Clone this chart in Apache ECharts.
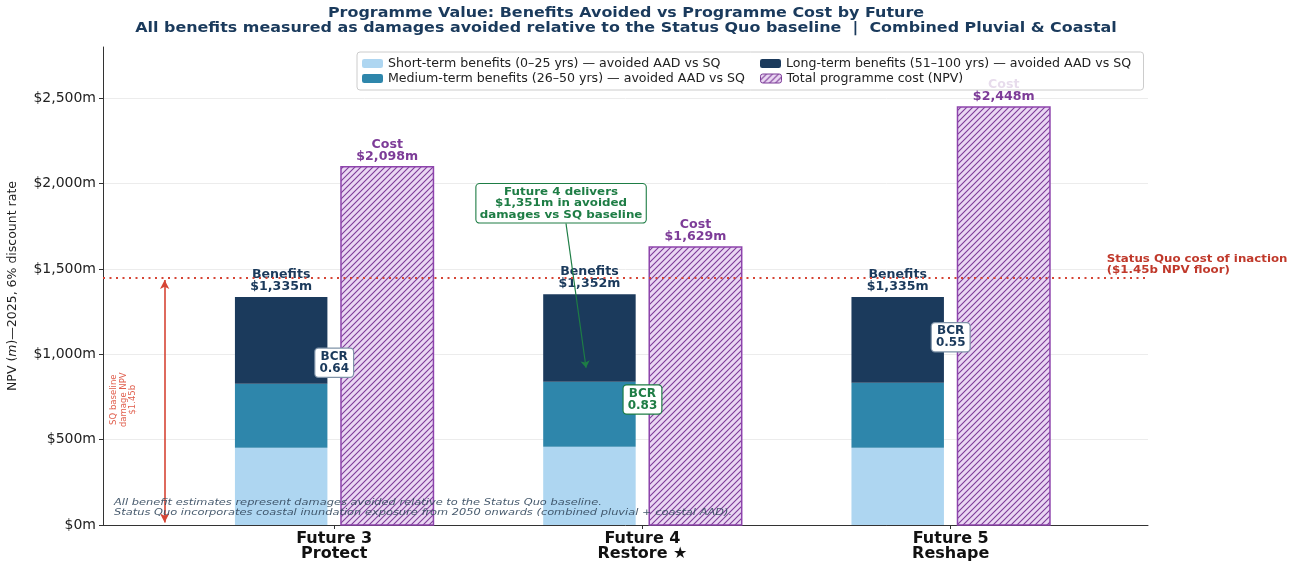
<!DOCTYPE html>
<html>
<head>
<meta charset="utf-8">
<script src="https://cdn.jsdelivr.net/npm/echarts@6/dist/echarts.min.js"></script>
<style>
    html, body { margin: 0; padding: 0; background: #fff; }
    #chart { width: 1300px; height: 562px; }
</style>
</head>
<body>
<div id="chart"></div>
<script>
// data ($m, NPV 2025 @ 6%)
const FUTURES = ['Future 3', 'Future 4', 'Future 5'];
const FUTURE_NAMES = ['Protect', 'Restore ★', 'Reshape'];
const SHORT_TERM = [452, 458, 452];     // 0-25 yrs
const MEDIUM_TERM = [375, 381, 381];    // 26-50 yrs
const LONG_TERM = [508, 513, 502];      // 51-100 yrs
const PROGRAMME_COST = [2098, 1629, 2448];
const SQ_BASELINE = 1450;
const BCR_LABEL_Y = [950, 735, 1100];   // where the BCR boxes sit
const HIGHLIGHT = 1;                    // Future 4

const FONT = 'DejaVu Sans';
const NAVY = '#1b3a5c';
const PURPLE = '#7d3c98';
const GREEN = '#1e7d45';
const RED = '#d64535';
const BAR_W = 0.3;      // in category units
const OFFSET = 0.172;
const SX = 1.18;        // reference text is a little wider than it is tall

const S_NAME = 'Short-term benefits (0–25 yrs) — avoided AAD vs SQ';
const M_NAME = 'Medium-term benefits (26–50 yrs) — avoided AAD vs SQ';
const L_NAME = 'Long-term benefits (51–100 yrs) — avoided AAD vs SQ';
const C_NAME = 'Total programme cost (NPV)';

const totals = SHORT_TERM.map((v, i) => v + MEDIUM_TERM[i] + LONG_TERM[i]);
const fmt = v => '$' + v.toLocaleString('en-US') + 'm';

// hatch pattern for cost bars
const hatch = document.createElement('canvas');
hatch.width = hatch.height = 6;
const g = hatch.getContext('2d');
g.fillStyle = '#ead7f3';
g.fillRect(0, 0, 6, 6);
g.strokeStyle = PURPLE;
g.lineWidth = 1.1;
g.beginPath();
g.moveTo(0, 6); g.lineTo(6, 0);
g.moveTo(-1, 1); g.lineTo(1, -1);
g.moveTo(5, 7); g.lineTo(7, 5);
g.stroke();
const hatchFill = { image: hatch, repeat: 'repeat' };

function barItem(offset, labelFn, labelColor) {
    return function (params, api) {
        const x = api.value(0) + offset;
        const lo = api.coord([x, api.value(1)]);
        const hi = api.coord([x, api.value(2)]);
        const w = api.size([BAR_W, 0])[0];
        const children = [{
            type: 'rect',
            shape: { x: lo[0] - w / 2, y: hi[1], width: w, height: lo[1] - hi[1] },
            style: api.style()
        }];
        if (labelFn) {
            children.push({
                type: 'text', z2: 5,
                x: lo[0], y: hi[1] - 4, scaleX: 1.05,
                style: {
                    text: labelFn(params.dataIndex),
                    textAlign: 'center', textVerticalAlign: 'bottom',
                    font: 'bold 12px "' + FONT + '"', fill: labelColor, lineHeight: 12
                }
            });
        }
        return { type: 'group', children };
    };
}

const chart = echarts.init(document.getElementById('chart'));

const option = {
    animation: false,
    grid: { left: 103, right: 152, top: 47, bottom: 37, outerBoundsMode: 'none' },
    legend: {
        left: 357, top: 52,
        width: 820,
        padding: [4, 5, 4, 5],
        itemWidth: 21, itemHeight: 9, itemGap: 0,
        backgroundColor: 'rgba(255,255,255,0.82)',
        borderColor: '#cccccc', borderWidth: 1, borderRadius: 3,
        formatter: name => (name === S_NAME || name === M_NAME ? '{a|' + name + '}' : '{b|' + name + '}'),
        textStyle: {
            fontFamily: FONT, fontSize: 12.6, color: '#222', lineHeight: 15,
            rich: {
                a: { width: 372, fontFamily: FONT, fontSize: 12.6, color: '#222', lineHeight: 15 },
                b: { width: 352, fontFamily: FONT, fontSize: 12.6, color: '#222', lineHeight: 15 }
            }
        },
        data: [
            S_NAME, L_NAME, M_NAME,
            { name: C_NAME, itemStyle: { borderColor: PURPLE, borderWidth: 1 } }
        ]
    },
    xAxis: {
        type: 'value', min: -0.75, max: 2.64,
        splitLine: { show: false },
        axisLine: { lineStyle: { color: '#333' } },
        axisTick: { customValues: [0, 1, 2], length: 4, lineStyle: { color: '#333' } },
        axisLabel: {
            customValues: [0, 1, 2],
            margin: 6,
            formatter: v => FUTURES[v] + '\n' + FUTURE_NAMES[v],
            fontFamily: FONT, fontWeight: 'bold', fontSize: 16, color: '#111', lineHeight: 15
        }
    },
    yAxis: {
        type: 'value', min: 0, max: 2800, interval: 500,
        name: 'NPV ({i|m})—2025, 6% discount rate',
        nameLocation: 'middle', nameGap: 84,
        nameTextStyle: {
            fontFamily: FONT, fontSize: 12.5, color: '#222',
            rich: { i: { fontFamily: FONT, fontSize: 12.5, fontStyle: 'italic', color: '#222' } }
        },
        axisLine: { show: true, onZero: false, lineStyle: { color: '#333' } },
        axisTick: { show: true, length: 4, lineStyle: { color: '#333' } },
        axisLabel: {
            showMaxLabel: false,
            formatter: v => (v % 500 === 0 ? fmt(v) : ''),
            fontFamily: FONT, fontSize: 14, color: '#222', margin: 7
        },
        splitLine: { showMaxLine: false, lineStyle: { color: '#ececec' } }
    },
    series: [
        {
            type: 'custom', name: S_NAME,
            itemStyle: { color: '#aed6f1' },
            encode: { x: 0, y: [1, 2] },
            renderItem: barItem(-OFFSET),
            data: SHORT_TERM.map((v, i) => [i, 0, v]),
            markLine: {
                silent: true, z: 6,
                symbol: ['arrow', 'arrow'], symbolSize: [7, 9],
                lineStyle: { color: RED, type: 'solid', width: 1.6 },
                label: { show: false },
                data: [[{ coord: [-0.55, 15] }, { coord: [-0.55, 1435] }]]
            }
        },
        {
            type: 'custom', name: M_NAME,
            itemStyle: { color: '#2e86ab' },
            encode: { x: 0, y: [1, 2] },
            renderItem: barItem(-OFFSET),
            data: MEDIUM_TERM.map((v, i) => [i, SHORT_TERM[i], SHORT_TERM[i] + v]),
            markLine: {
                silent: true, z: 6,
                symbol: ['none', 'arrow'], symbolSize: 7,
                lineStyle: { color: GREEN, type: 'solid', width: 1.2 },
                label: { show: false },
                data: [[{ coord: [0.752, 1766] }, { coord: [0.817, 921] }]]
            }
        },
        {
            type: 'custom', name: L_NAME,
            itemStyle: { color: NAVY },
            encode: { x: 0, y: [1, 2] },
            renderItem: barItem(-OFFSET, i => 'Benefits\n' + fmt(totals[i]), NAVY),
            data: LONG_TERM.map((v, i) => [i, totals[i] - v, totals[i]])
        },
        {
            type: 'custom', name: C_NAME,
            itemStyle: { color: hatchFill, borderColor: '#8e44ad', borderWidth: 1.5 },
            encode: { x: 0, y: [1, 2] },
            renderItem: barItem(OFFSET, i => 'Cost\n' + fmt(PROGRAMME_COST[i]), PURPLE),
            data: PROGRAMME_COST.map((v, i) => [i, 0, v]),
            markLine: {
                silent: true, z: 6,
                symbol: 'none',
                lineStyle: { color: RED, type: [2, 4.5], width: 2 },
                label: { show: false },
                data: [{ yAxis: SQ_BASELINE }]
            }
        },
        {
            type: 'custom', name: 'bcr', z: 7,
            encode: { x: 0, y: 1 },
            renderItem: function (params, api) {
                const i = params.dataIndex;
                const p = api.coord([api.value(0), api.value(1)]);
                const c = i === HIGHLIGHT ? GREEN : NAVY;
                return {
                    type: 'text', x: p[0], y: p[1],
                    style: {
                        text: 'BCR\n' + (totals[i] / PROGRAMME_COST[i]).toFixed(2),
                        textAlign: 'center', textVerticalAlign: 'middle',
                        font: 'bold 12px "' + FONT + '"', fill: c, lineHeight: 12,
                        backgroundColor: '#fff', borderColor: i === HIGHLIGHT ? GREEN : '#7f93a8',
                        borderWidth: 1.2, borderRadius: 3, padding: [2, 4]
                    }
                };
            },
            data: BCR_LABEL_Y.map((y, i) => [i, y])
        }
    ]
};
chart.setOption(option);

const px = p => chart.convertToPixel({ gridIndex: 0 }, p);
const noteAt = px([0.736, 1884]);
const sqTextAt = px([-0.684, 734]);
const floorAt = px([2.506, SQ_BASELINE]);

chart.setOption({
    graphic: [
        {
            type: 'text', x: 626, y: 6, z: 10, scaleX: SX,
            style: {
                text: 'Programme Value: Benefits Avoided vs Programme Cost by Future\nAll benefits measured as damages avoided relative to the Status Quo baseline  |  Combined Pluvial & Coastal',
                textAlign: 'center', font: 'bold 13.5px "' + FONT + '"', fill: '#1a3a5c', lineHeight: 15
            }
        },
        {
            type: 'text', x: noteAt[0], y: noteAt[1], z: 10, scaleX: 1.1,
            style: {
                text: 'Future 4 delivers\n$1,351m in avoided\ndamages vs SQ baseline',
                textAlign: 'center', textVerticalAlign: 'middle',
                font: 'bold 10.8px "' + FONT + '"', fill: GREEN, lineHeight: 11.5,
                backgroundColor: '#fff', borderColor: GREEN, borderWidth: 1, borderRadius: 3, padding: [2, 3]
            }
        },
        {
            type: 'text', x: sqTextAt[0], y: sqTextAt[1], rotation: Math.PI / 2, z: 10,
            style: {
                text: 'SQ baseline\ndamage NPV\n$1.45b',
                textAlign: 'center', textVerticalAlign: 'middle',
                font: '8.5px "' + FONT + '"', fill: '#e0604f', lineHeight: 9.5
            }
        },
        {
            type: 'text', x: floorAt[0], y: floorAt[1] - 2, z: 10, scaleX: SX,
            style: {
                text: 'Status Quo cost of inaction\n($1.45b NPV floor)',
                textAlign: 'left', textVerticalAlign: 'bottom',
                font: 'bold 10px "' + FONT + '"', fill: '#c0392b', lineHeight: 11
            }
        },
        {
            type: 'text', x: 114, y: 497, z: 10, scaleX: 1.2,
            style: {
                text: 'All benefit estimates represent damages avoided relative to the Status Quo baseline.\nStatus Quo incorporates coastal inundation exposure from 2050 onwards (combined pluvial + coastal AAD).',
                font: 'italic 9.5px "' + FONT + '"', fill: '#34495e', opacity: 0.9, lineHeight: 10.5
            }
        }
    ]
});
</script>
</body>
</html>
